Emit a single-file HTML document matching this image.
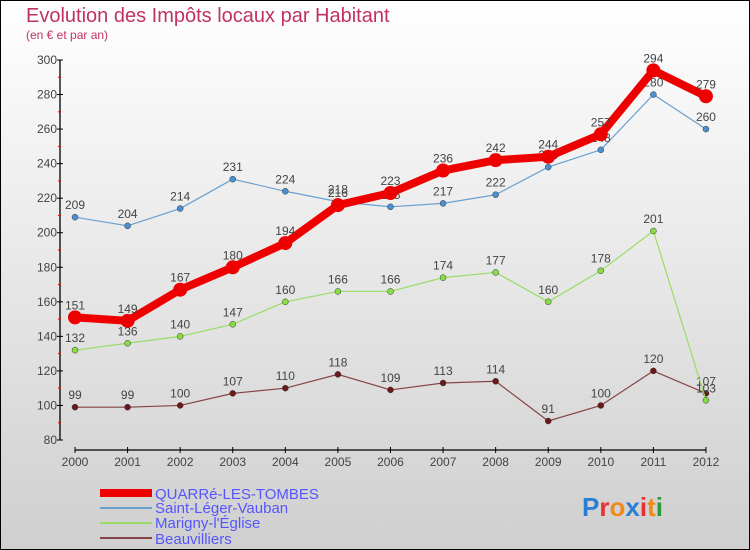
<!DOCTYPE html>
<html><head><meta charset="utf-8"><style>
html,body{margin:0;padding:0}
body{width:750px;height:550px;overflow:hidden;font-family:"Liberation Sans",sans-serif}
#c{position:absolute;left:0;top:0;width:748px;height:548px;border:1px solid #000;background:linear-gradient(#ffffff,#cfcfcf)}
</style></head><body>
<div id="c">
<svg id="s" width="750" height="550" style="position:absolute;left:-1px;top:-1px">
<text x="26" y="22" font-size="20" fill="#c0335f">Evolution des Impôts locaux par Habitant</text>
<text x="26" y="39" font-size="12" fill="#c0335f">(en € et par an)</text>
<g id="axes"></g><g id="series"></g>
<g>
<rect x="100" y="489" width="52" height="8" fill="#e00"/>
<text x="155" y="499" font-size="15" fill="#5555ff">QUARRé-LES-TOMBES</text>
<rect x="100" y="507" width="52" height="2" fill="#6aa0d0"/>
<text x="155" y="513" font-size="15" fill="#5555ff">Saint-Léger-Vauban</text>
<rect x="100" y="522" width="52" height="2" fill="#99dd66"/>
<text x="155" y="528" font-size="15" fill="#5555ff">Marigny-l'Église</text>
<rect x="100" y="537" width="52" height="2" fill="#884444"/>
<text x="155" y="544" font-size="15" fill="#5555ff">Beauvilliers</text>
</g>
<text x="582" y="516" font-size="26" font-weight="bold"><tspan fill="#2a7fd4">P</tspan><tspan fill="#e83030">r</tspan><tspan fill="#f08a1c">o</tspan><tspan fill="#2a7fd4">x</tspan><tspan fill="#e83030">i</tspan><tspan fill="#f08a1c">t</tspan><tspan fill="#2a9a3a">i</tspan></text>
</svg></div>
<script>
const years=["2000","2001","2002","2003","2004","2005","2006","2007","2008","2009","2010","2011","2012"];
const quarre=[151,149,167,180,194,216,223,236,242,244,257,294,279];
const saintLeger=[209,204,214,231,224,218,215,217,222,238,248,280,260];
const marigny=[132,136,140,147,160,166,166,174,177,160,178,201,103];
const beauvilliers=[99,99,100,107,110,118,109,113,114,91,100,120,107];
const yTicks=[80,100,120,140,160,180,200,220,240,260,280,300];
const NS="http://www.w3.org/2000/svg";
const xs=i=>75+i*52.58;
const ys=v=>440-(v-80)*380/220;
function mk(t,a,p){const e=document.createElementNS(NS,t);for(const k in a)e.setAttribute(k,a[k]);p.appendChild(e);return e;}
const ax=document.getElementById('axes');
let l=mk('line',{x1:60,y1:ys(300),x2:60,y2:440,stroke:'#000','stroke-width':1.3},ax);

l=mk('line',{x1:75,y1:450,x2:xs(12),y2:450,stroke:'#000','stroke-width':1.3},ax);

yTicks.forEach((v,i)=>{
 mk('line',{x1:57,y1:ys(v),x2:63,y2:ys(v),stroke:'#000'},ax);
 if(i<yTicks.length-1)mk('line',{x1:58,y1:ys(v+10),x2:61,y2:ys(v+10),stroke:'#e00'},ax);
 const t=mk('text',{x:57,y:ys(v)+4,'font-size':12,'text-anchor':'end',fill:'#444'},ax);t.textContent=v;
 
});
years.forEach((y,i)=>{
 mk('line',{x1:xs(i),y1:447,x2:xs(i),y2:453,stroke:'#000'},ax);
 const t=mk('text',{x:xs(i),y:466,'font-size':12,'text-anchor':'middle',fill:'#444'},ax);t.textContent=y;
 
});
const sg=document.getElementById('series');
function draw(data,color,w,r,name,dot){
 const g=mk('g',{},sg);
 
 const p=mk('polyline',{points:data.map((v,i)=>xs(i)+','+ys(v)).join(' '),fill:'none',stroke:color,'stroke-width':w,'stroke-linejoin':'round'},g);
 
 data.forEach((v,i)=>{
  const c=mk('circle',{cx:xs(i),cy:ys(v),r:r,fill:dot,stroke:w>3?'none':'#333','stroke-width':0.5},g);
  
  const t=mk('text',{x:xs(i),y:ys(v)-8,'font-size':12,'text-anchor':'middle',fill:'#444'},g);t.textContent=v;
  
 });
}
draw(beauvilliers,'#884444',1.2,3,'beauvilliers','#6a1a1a');
draw(marigny,'#99dd66',1.2,3,'marigny','#88dd44');
draw(saintLeger,'#6aa0d0',1.2,3,'saint-leger','#4a90d0');
draw(quarre,'#ee0000',8,7,'quarre','#ee0000');
</script>
</body></html>
